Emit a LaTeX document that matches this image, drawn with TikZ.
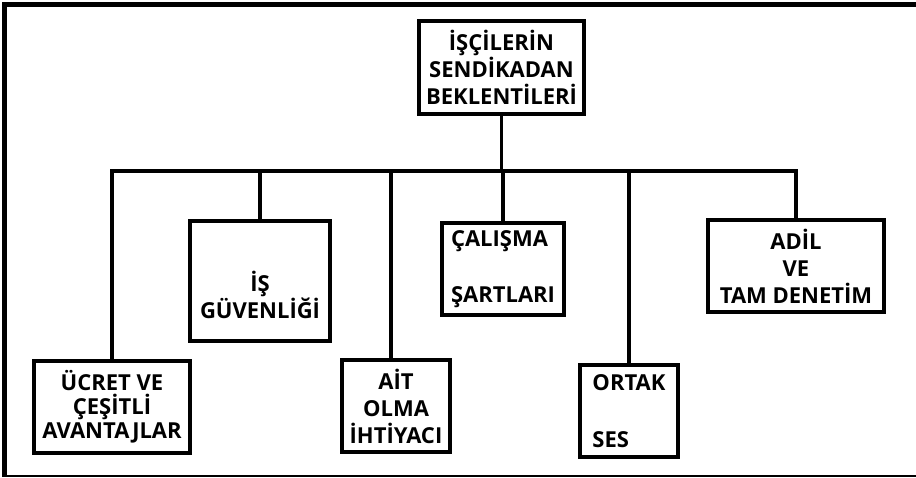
\documentclass[tikz,border=0pt]{standalone}
\usepackage{fontspec}
\setmainfont{Open Sans}
\usepackage{tikz}

\begin{document}
\begin{tikzpicture}[x=1pt,y=-1pt,
  yazi/.style={align=center,inner sep=0pt,
    font=\bfseries\fontsize{22}{27}\selectfont},
  kutu/.style={draw,line width=4.5pt,yazi},
  hat/.style={line width=3.5pt}]
\useasboundingbox (0,0) rectangle (916,477);
% frame
\draw[line width=4.5pt] (916,4.5) -- (4.5,4.5) -- (4.5,477);
\draw[line width=1.5pt] (4.5,475.8) -- (916,475.8);
% boxes
\node[kutu,minimum width=165pt,minimum height=93pt] (ana) at (501.5,67.5)
  {İŞÇİLERİN\\SENDİKADAN\\BEKLENTİLERİ};
\node[kutu,minimum width=156pt,minimum height=92pt,
  font=\bfseries\fontsize{22}{24}\selectfont] (ucret) at (112,407)
  {ÜCRET VE\\ÇEŞİTLİ\\AVANTAJLAR};
\node[kutu,minimum width=140pt,minimum height=120pt,
  label={[yazi,yshift=-14pt]center:İŞ\\GÜVENLİĞİ}] (guvenlik) at (260,281) {};
\node[kutu,minimum width=108pt,minimum height=92pt] (ait) at (396,406)
  {AİT\\OLMA\\İHTİYACI};
\node[kutu,align=left,minimum width=122pt,minimum height=92pt] (calisma) at (503,269)
  {ÇALIŞMA\\[29pt]ŞARTLARI};
\node[kutu,align=left,minimum width=98pt,minimum height=92pt] (ortak) at (629,411)
  {ORTAK\\[30pt]SES};
\node[kutu,minimum width=176pt,minimum height=92pt] (adil) at (796,266)
  {ADİL\\VE\\TAM DENETİM};
% connectors
\coordinate (busL) at (112,171);
\coordinate (busR) at (796,171);
\draw[hat] (ana.south) -- (ana.south |- busL);
\draw[hat] (ucret.north) -- (busL) -- (busR) -- (adil.north);
\foreach \n in {guvenlik,calisma,ortak}
  \draw[hat] (\n.north) -- (\n.north |- busL);
\draw[hat] ([xshift=-5pt]ait.north) -- ([xshift=-5pt,yshift=2pt]ait.north |- busL);
\end{tikzpicture}
\end{document}
